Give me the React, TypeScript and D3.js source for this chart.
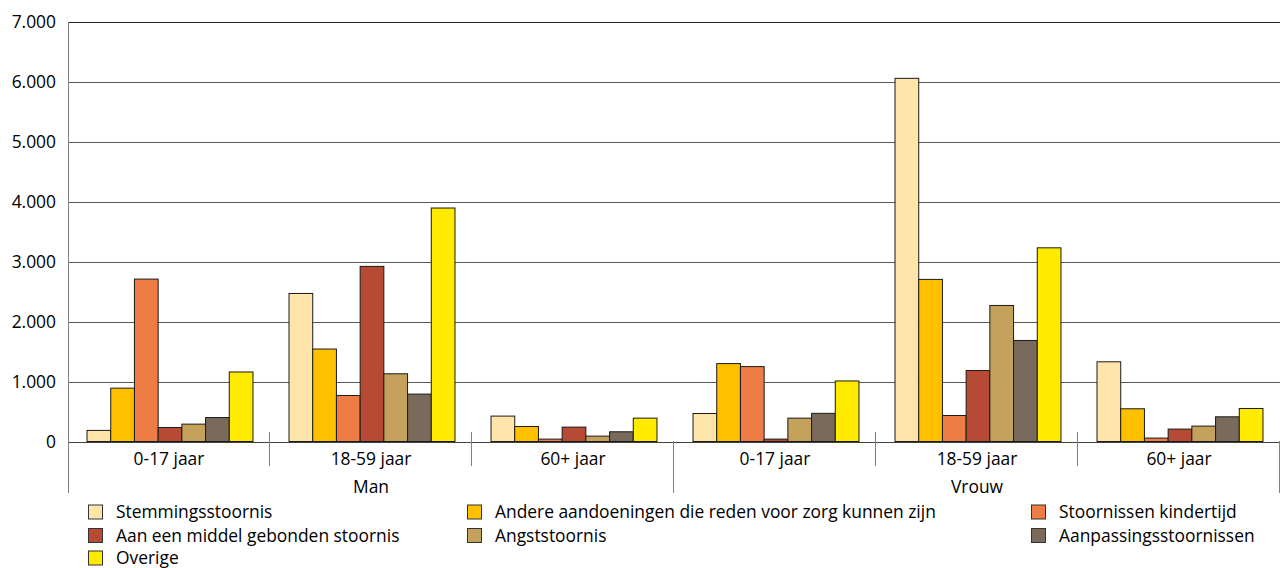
import React from 'react'
import * as d3 from 'd3'

const genders = ['Man', 'Vrouw']
const ageGroups = ['0-17 jaar', '18-59 jaar', '60+ jaar']

const seriesNames = [
  'Stemmingsstoornis',
  'Andere aandoeningen die reden voor zorg kunnen zijn',
  'Stoornissen kindertijd',
  'Aan een middel gebonden stoornis',
  'Angststoornis',
  'Aanpassingsstoornissen',
  'Overige',
]

const seriesColors = ['#FFE5A9', '#FFC000', '#ED7D45', '#B64A34', '#C4A25C', '#7A6A5B', '#FFEB00']

// one row per series, six values: Man 0-17, 18-59, 60+, Vrouw 0-17, 18-59, 60+
const stemming = [185, 2470, 424, 467, 6060, 1330]
const andere = [890, 1543, 250, 1300, 2705, 546]
const kindertijd = [2710, 768, 40, 1250, 434, 57]
const middel = [234, 2922, 240, 40, 1185, 207]
const angst = [290, 1130, 90, 390, 2270, 257]
const aanpassing = [400, 791, 162, 470, 1686, 412]
const overige = [1160, 3896, 390, 1010, 3232, 551]

const yTicks = [0, 1000, 2000, 3000, 4000, 5000, 6000, 7000]

const seriesValues = [stemming, andere, kindertijd, middel, angst, aanpassing, overige]

const font = '"Open Sans", sans-serif'
const fs = 17.4

const App: React.FunctionComponent = () => {
  const width = 1282
  const height = 568
  const left = 68
  const right = 1280
  const top = 22
  const bottom = 441.5

  const groups = genders.flatMap(g => ageGroups.map(a => `${g}|${a}`))

  const x = d3.scaleBand<string>().domain(groups).range([left, right]).padding(0)
  const inner = d3
    .scaleBand<number>()
    .domain(d3.range(seriesNames.length))
    .range([0, x.bandwidth()])
    .paddingInner(0)
    .paddingOuter(0.76)
  const y = d3.scaleLinear().domain([0, 7000]).range([bottom, top])
  const fmt = (v: number) => d3.format(',')(v).replace(/,/g, '.')

  const genderBand = d3.scaleBand<string>().domain(genders).range([left, right])

  const legendCols = [88, 467, 1031]
  const legendRows = [512, 535.5, 558]

  return (
    <svg width={width} height={height} style={{ position: 'absolute', left: 0, top: 0 }}>
      <rect width={width} height={height} fill="#fff" />
      {yTicks.map(t => (
        <g key={t}>
          {t > 0 && (
            <line x1={left} x2={right} y1={Math.round(y(t)) + 0.5} y2={Math.round(y(t)) + 0.5} stroke={t === 7000 ? '#222' : '#5a5a5a'} />
          )}
          <text x={56} y={y(t)} dy="0.35em" textAnchor="end" fontFamily={font} fontSize={fs} fill="#000">
            {fmt(t)}
          </text>
        </g>
      ))}
      {groups.map((g, gi) => (
        <g key={g} transform={`translate(${(x(g) as number) + 1},0)`}>
          {seriesValues.map((vals, si) => (
            <rect
              key={si}
              x={inner(si)}
              y={y(vals[gi])}
              width={inner.bandwidth()}
              height={bottom - y(vals[gi])}
              fill={seriesColors[si]}
              stroke="#1a1a1a"
              strokeWidth={1}
            />
          ))}
        </g>
      ))}
      <line x1={left} x2={right} y1={Math.round(bottom) + 0.5} y2={Math.round(bottom) + 0.5} stroke="#404040" />
      <line x1={left + 0.5} x2={left + 0.5} y1={top} y2={493} stroke="#808080" />
      {groups.map((g, gi) => {
        const [, age] = g.split('|')
        const cx = (x(g) as number) + x.bandwidth() / 2
        const xr = (x(g) as number) + x.bandwidth()
        const outer = gi === 2 || gi === 5
        return (
          <g key={`lab-${g}`}>
            <text x={cx} y={459} dy="0.35em" textAnchor="middle" fontFamily={font} fontSize={fs} fill="#000">
              {age}
            </text>
            <line
              x1={Math.round(xr) - 0.5}
              x2={Math.round(xr) - 0.5}
              y1={outer ? 441 : 432}
              y2={outer ? 493 : 466}
              stroke="#808080"
            />
          </g>
        )
      })}
      {genders.map(g => (
        <text
          key={g}
          x={(genderBand(g) as number) + genderBand.bandwidth() / 2}
          y={487}
          dy="0.35em"
          textAnchor="middle"
          fontFamily={font}
          fontSize={fs}
          fill="#000"
        >
          {g}
        </text>
      ))}
      {seriesNames.map((name, i) => {
        const lx = legendCols[i % 3]
        const ly = legendRows[Math.floor(i / 3)]
        return (
          <g key={name}>
            <rect x={lx + 0.5} y={ly - 7} width={14} height={14} fill={seriesColors[i]} stroke="#333" />
            <text x={lx + 28} y={ly} dy="0.35em" fontFamily={font} fontSize={fs} fill="#000">
              {name}
            </text>
          </g>
        )
      })}
    </svg>
  )
}

export default App
